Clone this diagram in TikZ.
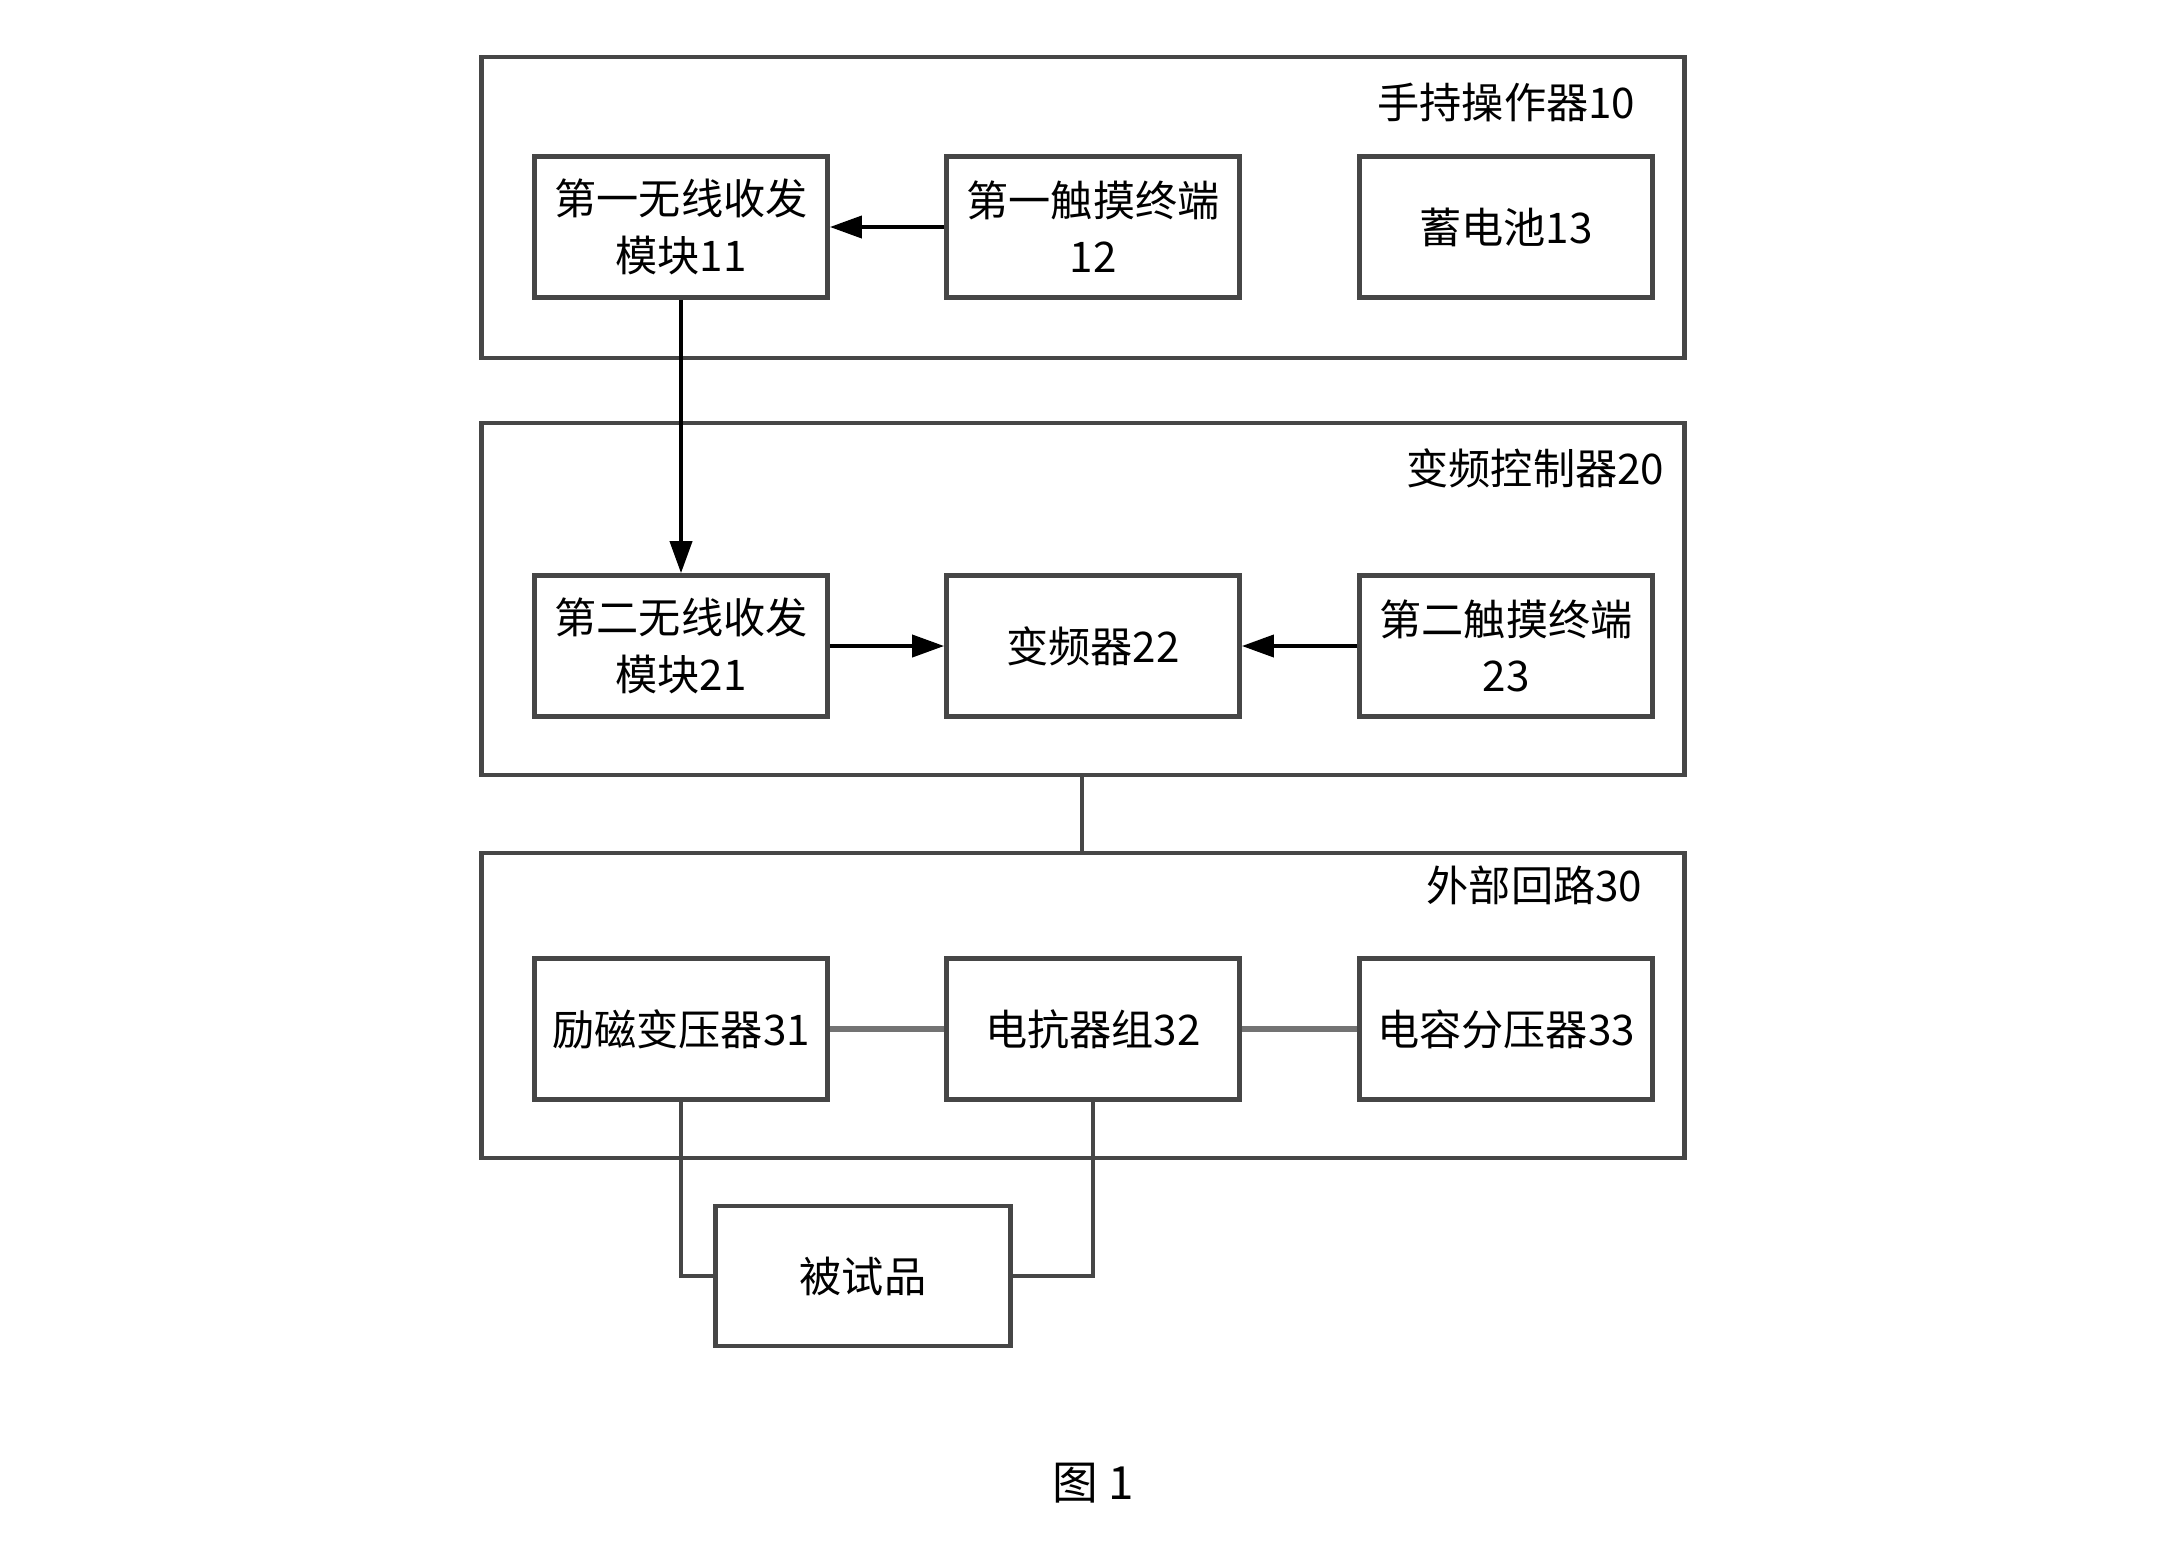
\documentclass[tikz,border=0pt]{standalone}
\usepackage{fontspec}
\setmainfont{Liberation Serif}
\newfontfamily\cjk{Noto Sans CJK SC}
\usepackage{tikz}
\usetikzlibrary{positioning,arrows.meta}
\definecolor{edgegray}{RGB}{70,70,70}

\begin{document}
\begin{tikzpicture}[x=0.01cm, y=-0.01cm, font=\cjk\fontsize{12}{16}\selectfont,
    frame/.style={draw=edgegray, line width=1.3pt, minimum width=12.02cm},
    unit/.style={draw=edgegray, line width=1.3pt, minimum width=2.93cm, minimum height=1.41cm, align=center, inner sep=0pt},
    tag/.style={anchor=east, inner sep=0pt},
    wire/.style={draw=edgegray, line width=1.1pt},
    bus/.style={draw=black!55, line width=1.8pt},
    sig/.style={draw=black, line width=1.1pt, -{Triangle[length=3.2mm,width=2.2mm]}}]
            \useasboundingbox (0,0) rectangle (2183,1542);
            % outer frames
            \node[frame, minimum height=3.01cm] (f1) at (1083,207.5) {};
            \node[frame, minimum height=3.52cm] (f2) at (1083,599) {};
            \node[frame, minimum height=3.05cm] (f3) at (1083,1005.5) {};
            \node[tag] (t1) at (1636,102) {手持操作器10};
            \node[tag] (t2) at (1665,468) {变频控制器20};
            \node[tag] (t3) at (1643,885) {外部回路30};
            % units
            \node[unit] (11) at (681,227) {第一无线收发\\模块11};
            \node[unit] (12) at (1093,227) {第一触摸终端\\12};
            \node[unit] (13) at (1506,227) {蓄电池13};
            \node[unit] (21) at (681,646) {第二无线收发\\模块21};
            \node[unit] (22) at (1093,646) {变频器22};
            \node[unit] (23) at (1506,646) {第二触摸终端\\23};
            \node[unit] (31) at (681,1029) {励磁变压器31};
            \node[unit] (32) at (1093,1029) {电抗器组32};
            \node[unit] (33) at (1506,1029) {电容分压器33};
            \node[unit, minimum width=2.95cm, minimum height=1.40cm] (dut) at (863,1276) {被试品};
            \node[inner sep=0pt] (cap) at (1093,1483) {\fontsize{13}{16}\selectfont 图 1};
            % links
            \path[sig] (12) -- (11);
            \path[sig] (11) -- (21);
            \path[sig] (21) -- (22);
            \path[sig] (23) -- (22);
            \coordinate (c) at (1082,0);
            \draw[wire] (f2.south -| c) -- (f3.north -| c);
            \draw[bus] (31) -- (32);
            \draw[bus] (32) -- (33);
            \draw[wire] (31.south) |- (dut.west);
            \draw[wire] (32.south) |- (dut.east);
        \end{tikzpicture}
\end{document}
